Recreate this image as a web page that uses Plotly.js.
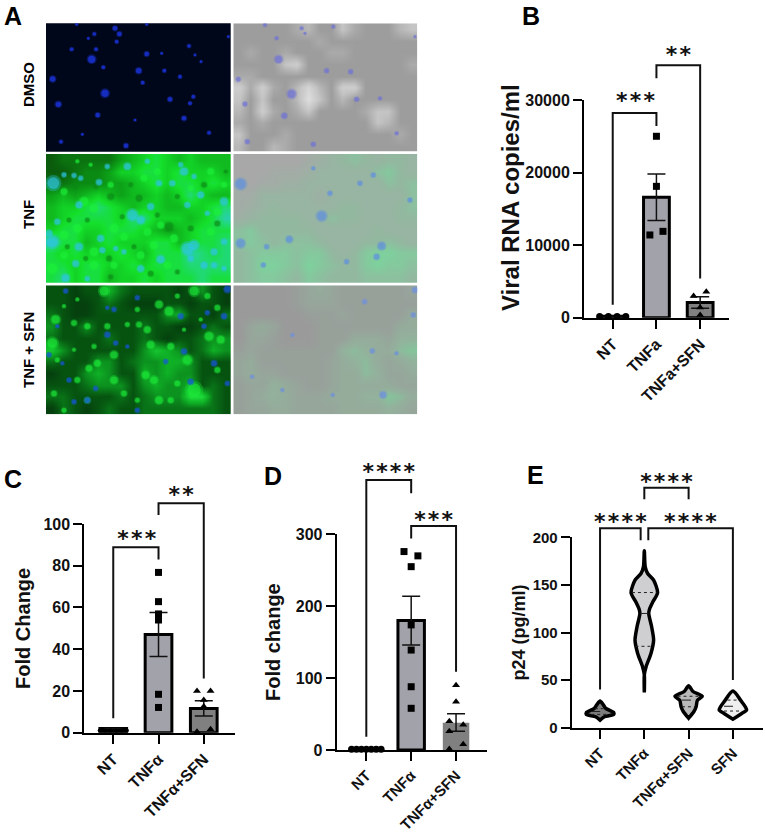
<!DOCTYPE html>
<html>
<head>
<meta charset="utf-8">
<script src="https://cdn.plot.ly/plotly-3.0.1.min.js"></script>
<style>body { margin: 0; background: #fff; }</style>
</head>
<body>
<div id="plot" style="width:765px;height:833px;"></div>
<script>
// Panel A: coarse brightness grids (one digit per cell, 0-9)
const tnfFluor = ['0111113456545444','0012235566565554','1122233456566565','3434543445457544','4556765455445567','4566665775554568','5665566654345666','8664565556645667','6565556546668767','6656655656667777','6756645565666766'];
const sfnFluor = ['3323364333323532','3322343222332332','4322333333563324','5335333343322343','4333343343233455','7533333357653465','4333553455665333','2335653365655333','3334555356556343','4433334345558843','2432343344444443'];
const dmsoBright = ['3333345336433356','3333333433333333','3433433344333333','3333673333333334','4433333333333333','7474358537733333','6363359635333333','5374346333346633','4343333333336533','6333433333333343','5335433333333333'];
const tnfOverlay = ['0000001234543443','0001112333335643','1011223333333545','1133333233333335','1234333334433345','2344443354433344','5644444333334333','5654555433344543','4566656643467766','4577657654467665','4566546544455554'];
const sfnOverlay = ['0000012321111112','0000012221111111','0000001112111113','0232000111111133','0221000111333244','1211111114543356','2311111123453234','2322111123354223','1224321123333322','1234322233344653','1223322223333432'];

const dmsoBlue = [[275,178,8],[345,85,5],[358,102,5],[283,102,4],[265,115,3],[350,125,4],[215,148,4],[288,148,4],[440,162,5],[485,160,3],[567,138,4],[585,165,3],[603,185,3],[158,237,6],[310,202,4],[416,212,6],[493,212,4],[540,230,4],[428,248,4],[315,280,8],[175,313,6],[510,298,5],[580,290,4],[570,310,4],[293,345,5],[405,360,3],[552,355,5],[627,398,4],[183,425,4],[378,437,5],[685,110,3],[230,73,3],[440,73,3],[247,403,3]];
const dmsoOverlayBlue = [[836,178,8],[905,85,4],[1000,80,4],[830,115,4],[980,212,5],[1052,215,5],[875,282,9],[735,312,5],[1070,298,5],[1140,295,4],[853,347,6],[715,238,5],[742,425,5],[940,433,5],[1190,400,4],[1245,110,3],[795,75,4],[915,100,3]];
const tnfCyan = [[28,95,13],[60,70,5],[90,72,5],[110,80,5],[165,92,6],[105,160,7],[265,190,11],[290,205,8],[320,165,7],[345,95,6],[385,95,6],[420,60,8],[450,75,5],[470,130,7],[430,160,6],[540,150,8],[490,185,5],[25,270,12],[15,245,7],[105,285,8],[170,260,7],[175,295,6],[240,300,5],[350,322,8],[430,290,12],[450,280,10],[510,300,7],[540,270,6],[95,335,7],[65,378,8],[290,350,7],[480,340,7],[540,350,5],[410,40,5],[250,45,7],[190,45,5],[310,30,5],[40,210,6],[215,290,5],[130,380,5],[440,320,6],[510,340,6]];
const tnfGreenSpots = [[120,150,9],[60,120,7],[150,170,9],[100,230,9],[60,250,9],[210,230,9],[240,255,8],[310,240,8],[350,220,7],[390,260,8],[150,300,9],[60,310,8],[25,350,11],[150,340,9],[210,340,7],[290,310,8],[370,340,8],[330,280,8],[500,240,8],[520,180,8],[340,60,7],[300,80,7],[440,110,6],[500,60,7],[540,100,6],[200,100,6],[100,30,4],[140,40,4]];
const tnfDarkSpots = [[95,105,6],[200,135,7],[285,140,7],[375,225,9],[340,190,5],[235,195,5],[130,205,5],[75,205,5],[400,135,5],[480,100,6],[520,215,6],[195,320,6],[125,320,5],[270,285,5],[320,365,6],[400,360,5],[70,285,5],[200,375,5],[545,60,4],[260,100,5],[440,230,6],[155,105,5]];
const sfnGreenSpots = [[180,25,10],[35,110,9],[25,180,11],[130,130,6],[90,120,6],[60,70,4],[190,130,6],[210,215,8],[160,240,7],[135,255,7],[320,185,8],[375,85,9],[345,65,8],[450,25,10],[520,75,6],[495,160,9],[430,230,10],[380,190,7],[450,320,15],[345,350,8],[330,290,8],[210,290,8],[305,275,8],[240,330,6],[100,290,6],[30,330,6],[60,380,5],[400,300,6],[250,125,5],[310,140,7],[285,125,6],[420,140,4],[530,170,8],[490,40,6],[100,50,4],[400,40,5],[150,190,5],[40,230,5],[130,350,6],[280,80,5],[280,350,5],[380,350,6],[520,260,6],[90,200,4],[470,110,4]];
const sfnBlueSpots = [[410,100,6],[190,155,6],[420,205,6],[540,100,6],[440,295,6],[130,350,6],[155,315,5],[75,290,5],[215,180,5],[365,235,5],[65,25,5],[210,80,5],[190,75,4],[510,240,6],[480,130,5],[15,215,5],[55,240,4],[90,355,5],[550,300,5],[280,45,5],[280,380,5],[550,20,7],[490,90,5],[250,190,4],[40,130,4]];
const tnfOverlayBlue = [[722,552,11],[965,648,10],[868,718,7],[722,730,9],[1145,738,8],[1080,550,5],[1230,600,5],[990,580,5],[800,740,5],[1040,785,5],[1130,770,6],[790,795,5],[940,505,4],[1120,525,5]];
const sfnOverlayBlue = [[1245,870,6],[1118,1053,5],[1095,905,5],[1240,945,5],[1150,1185,7],[850,1170,4],[880,1005,4],[1190,1060,4],[1000,1185,4],[760,1130,4]];

// Panel B
const bCats = ['NT', 'TNFa', 'TNFa+SFN'];
const bMeans = [200, 16600, 2100];
const bErrUp = [0, 3200, 800];
const bErrDown = [0, 3200, 800];
const bNtX = [-0.3, -0.1, 0.1, 0.3];
const bNtY = [150, 150, 150, 150];
const bTnfX = [0, 0, 0.15, -0.15];
const bTnfY = [25000, 18100, 11900, 11400];
const bSfnX = [-0.15, 0.14, 0, 0];
const bSfnY = [2985, 3580, 1400, 370];

// Panel C
const cCats = ['NT', 'TNFα', 'TNFα+SFN'];
const cMeans = [2, 47, 11.6];
const cErrUp = [0, 10.6, 3.7];
const cErrDown = [0, 10.5, 3.6];
const cNtX = [-0.3, -0.18, -0.06, 0.06, 0.18, 0.3];
const cNtY = [1, 1, 1, 1, 1, 1];
const cTnfX = [0, 0, 0, 0, 0, 0];
const cTnfY = [76.8, 62.8, 56.9, 54, 18.4, 12.1];
const cSfnX = [-0.15, 0.15, 0, 0, 0.15, -0.15];
const cSfnY = [20, 20, 15.7, 12.5, 1.6, 0.5];

// Panel D
const dCats = ['NT', 'TNFα', 'TNFα+SFN'];
const dMeans = [1, 180, 38];
const dErrUp = [0, 34, 12.5];
const dErrDown = [0, 34, 12];
const dNtX = [-0.33, -0.22, -0.11, 0, 0.11, 0.22, 0.33];
const dNtY = [1, 1, 1, 1, 1, 1, 1];
const dTnfX = [-0.16, 0.15, 0, 0, 0, 0, 0];
const dTnfY = [276, 270, 255, 174, 139, 88, 58];
const dSfnX = [0, 0, -0.15, 0.16, -0.15, 0.16, -0.15];
const dSfnY = [90, 67, 40, 35, 26, 8, 1.4];

// Panel E: violin outlines, value and half width (in category units)
const eCats = ['NT', 'TNFα', 'TNFα+SFN', 'SFN'];
const ntViolinY = [28, 24, 20.3, 15.8, 14, 11.5, 8];
const ntViolinW = [0, 0.075, 0.13, 0.31, 0.31, 0.1, 0];
const tnfViolinY = [186, 169, 162, 155, 142, 132, 125, 120, 106, 92, 78, 64, 55.5, 37];
const tnfViolinW = [0, 0.02, 0.075, 0.21, 0.3, 0.19, 0.12, 0.1, 0.165, 0.21, 0.15, 0.04, 0, 0];
const comboViolinY = [44, 38, 33, 29, 22, 17, 10];
const comboViolinW = [0, 0.1, 0.31, 0.2, 0.17, 0.12, 0];
const sfnViolinY = [38.5, 34, 29, 22, 18.5, 15, 9];
const sfnViolinW = [0, 0.1, 0.17, 0.28, 0.31, 0.2, 0];
const violinFills = ['#7d7d7d', '#cfcfd2', '#b9b9b9', '#efefef'];
// quartile lines: [median, upper, lower] values and half widths
const ntQuart = [[17, 0.2], [20, 0.12], [14, 0.2]];
const tnfQuart = [[120, 0.09], [142, 0.28], [85.5, 0.2]];
const comboQuart = [[29, 0.15], [33, 0.25], [22, 0.15]];
const sfnQuart = [[22.5, 0.2], [29, 0.12], [17.5, 0.2]];

// Significance brackets: [xLeft, yLeftEnd, yTop, xRight, yRightEnd]
const bBrackets = [[0, 1800, 28200, 1, 26400], [1, 33000, 34800, 2, 5400]];
const cBrackets = [[0, 6.9, 88.8, 1, 83], [1, 104.3, 110, 2, 26]];
const dBrackets = [[0, 18.5, 375.5, 1, 357], [1, 294, 311.5, 2, 109]];
const eBrackets = [[0, 40, 209.5, 0.917, 197], [1.09, 197, 209.5, 3, 50], [1, 240, 252, 2, 240]];
// Stars: [x, y, text], hair spaces keep the asterisks apart
const bStars = [[0.52, 29600, '*\u200a*\u200a*'], [1.5, 36000, '*\u200a*']];
const cStars = [[0.52, 92, '*\u200a*\u200a*'], [1.5, 113, '*\u200a*']];
const dStars = [[0.5, 384, '*\u200a*\u200a*\u200a*'], [1.5, 318, '*\u200a*\u200a*']];
const eStars = [[0.46, 214, '*\u200a*\u200a*\u200a*'], [2.04, 214, '*\u200a*\u200a*\u200a*'], [1.5, 257, '*\u200a*\u200a*\u200a*']];

const FONT = 'Liberation Sans, Arial, sans-serif';
const W = 765, H = 833;
const traces = [];
const layout = {
    width: W, height: H,
    margin: { l: 0, r: 0, t: 0, b: 0 },
    paper_bgcolor: '#fff',
    plot_bgcolor: 'rgba(0,0,0,0)',
    showlegend: false,
    shapes: [],
    annotations: []
};

function domX(a, b) { return [a / W, b / W]; }
function domY(top, bottom) { return [1 - bottom / H, 1 - top / H]; }

// one micrograph: hidden axes, smoothed heatmap from a digit grid
function addPhoto(n, rect, xr, yr, rows, scale) {
    layout['xaxis' + n] = { domain: domX(rect[0], rect[1]), range: xr, visible: false, fixedrange: true };
    layout['yaxis' + n] = { domain: domY(rect[2], rect[3]), range: [yr[1], yr[0]], visible: false, fixedrange: true };
    if (rows) {
        const nx = rows[0].length, ny = rows.length;
        const x = [], y = [];
        for (let i = 0; i < nx; i++) x.push(xr[0] + (xr[1] - xr[0]) * (i + 0.5) / nx);
        for (let j = 0; j < ny; j++) y.push(yr[0] + (yr[1] - yr[0]) * (j + 0.5) / ny);
        traces.push({
            type: 'heatmap', x: x, y: y,
            z: rows.map(r => r.split('').map(Number)),
            zmin: 0, zmax: 9, zsmooth: 'best', colorscale: scale, showscale: false, hoverinfo: 'skip',
            xaxis: 'x' + n, yaxis: 'y' + n
        });
    }
}

function addSpots(n, spots, color, halo) {
    const x = spots.map(s => s[0]), y = spots.map(s => s[1]), s = spots.map(s => s[2]);
    traces.push({
        type: 'scatter', mode: 'markers', x: x, y: y, xaxis: 'x' + n, yaxis: 'y' + n, hoverinfo: 'skip',
        marker: { color: color, size: s.map(v => v * 1.25), opacity: halo, line: { width: 0 } }
    });
    traces.push({
        type: 'scatter', mode: 'markers', x: x, y: y, xaxis: 'x' + n, yaxis: 'y' + n, hoverinfo: 'skip',
        marker: { color: color, size: s.map(v => v * 0.9), opacity: 0.6, line: { width: 0 } }
    });
}

function addChartAxes(n, rect, xRange, yRange, cats, yTicks, extTop, opts) {
    layout['xaxis' + n] = {
        domain: domX(rect[0], rect[1]), range: xRange, anchor: 'y' + n, fixedrange: true,
        tickmode: 'array', tickvals: cats.map((c, i) => i), ticktext: cats, tickangle: -45,
        showline: true, linecolor: '#000', linewidth: 2, showgrid: false, zeroline: false,
        ticks: 'outside', ticklen: 9, tickwidth: 2, tickcolor: '#000',
        tickfont: { family: FONT, size: opts.catSize, color: '#111', weight: 700 }
    };
    layout['yaxis' + n] = {
        domain: domY(rect[2], rect[3]), range: yRange, anchor: 'x' + n, fixedrange: true,
        tickmode: 'array', tickvals: yTicks, tickformat: 'd',
        showline: true, linecolor: '#000', linewidth: 2, showgrid: false, zeroline: false,
        ticks: 'outside', ticklen: 9, tickwidth: 2, tickcolor: '#000',
        tickfont: { family: FONT, size: opts.tickSize, color: '#111', weight: 700 }
    };
    if (opts.title) {
        layout['yaxis' + n].title = { text: opts.title, standoff: opts.standoff, font: { family: FONT, size: opts.titleSize, color: '#111', weight: 700 } };
    }
    // hidden companion axes at the same scale, taller so brackets and stars can sit above the top tick
    const top = yRange[1] * (rect[3] - extTop) / (rect[3] - rect[2]);
    const m = n + 10;
    layout['xaxis' + m] = { domain: domX(rect[0], rect[1]), range: xRange, anchor: 'y' + m, visible: false, fixedrange: true };
    layout['yaxis' + m] = { domain: domY(extTop, rect[3]), range: [0, top], anchor: 'x' + m, visible: false, fixedrange: true };
}

function addBars(n, means, up, down, fills, borders) {
    traces.push({
        type: 'bar', x: means.map((m, i) => i), y: means, width: 0.59, cliponaxis: false,
        xaxis: 'x' + n, yaxis: 'y' + n, hoverinfo: 'skip',
        marker: { color: fills, line: { color: '#000', width: borders } },
        error_y: { type: 'data', symmetric: false, array: up, arrayminus: down, color: '#111', thickness: 1.5, width: 9 }
    });
}

function addPoints(n, x, y, offset, symbol, size) {
    traces.push({
        type: 'scatter', mode: 'markers', x: x.map(v => v + offset), y: y, cliponaxis: false,
        xaxis: 'x' + n, yaxis: 'y' + n, hoverinfo: 'skip',
        marker: { color: '#000', symbol: symbol, size: size }
    });
}

function addBrackets(n, list) {
    const m = n + 10;
    list.forEach(b => {
        traces.push({
            type: 'scatter', mode: 'lines', x: [b[0], b[0], b[3], b[3]], y: [b[1], b[2], b[2], b[4]],
            cliponaxis: false, xaxis: 'x' + m, yaxis: 'y' + m, hoverinfo: 'skip',
            line: { color: '#111', width: 2 }
        });
    });
}

function addStars(n, list) {
    const m = n + 10;
    traces.push({
        type: 'scatter', mode: 'text', x: list.map(s => s[0]), y: list.map(s => s[1]), text: list.map(s => s[2]),
        textposition: 'middle center', cliponaxis: false, xaxis: 'x' + m, yaxis: 'y' + m, hoverinfo: 'skip',
        textfont: { family: 'DejaVu Sans', size: 22, color: '#111', weight: 700 }
    });
}

function addViolin(n, cat, ys, ws, fill, quart) {
    const x = ws.map(w => cat - w).concat(ws.slice().reverse().map(w => cat + w));
    const y = ys.concat(ys.slice().reverse());
    traces.push({
        type: 'scatter', mode: 'lines', x: x, y: y, fill: 'toself', fillcolor: fill, cliponaxis: false,
        xaxis: 'x' + n, yaxis: 'y' + n, hoverinfo: 'skip',
        line: { color: '#000', width: 3.5, shape: 'spline', smoothing: 0.7 }
    });
    quart.forEach((q, i) => {
        traces.push({
            type: 'scatter', mode: 'lines', x: [cat - q[1], cat + q[1]], y: [q[0], q[0]], cliponaxis: false,
            xaxis: 'x' + n, yaxis: 'y' + n, hoverinfo: 'skip',
            line: { color: '#222', width: 1, dash: i === 0 ? 'dash' : 'dot' }
        });
    });
}

// ---- Panel A ----
const greenScale = [[0, '#0a5c0c'], [0.3, '#0c9a16'], [0.62, '#14e02a'], [0.8, '#22d880'], [1, '#30c4e0']];
const darkGreenScale = [[0, '#031c0a'], [0.33, '#065210'], [0.66, '#0fb026'], [1, '#26f044']];
const grayScale = [[0, '#8a8a8a'], [0.33, '#9d9d9d'], [0.66, '#c4c4c4'], [1, '#dedede']];
const overlayScale = [[0, '#a8a8a8'], [0.45, '#93b8a0'], [1, '#6fe29a']];
const overlayDarkScale = [[0, '#9a9a9a'], [0.45, '#93b29c'], [1, '#6fe29a']];

addPhoto(1, [46, 230.7, 23.3, 151.7], [138, 692], [70, 455], null);
layout.shapes.push({ type: 'rect', xref: 'x domain', yref: 'y domain', x0: 0, x1: 1, y0: 0, y1: 1, fillcolor: '#00071a', line: { width: 0 }, layer: 'below' });
addSpots(1, dmsoBlue, '#1f3cff', 0.3);
addPhoto(2, [233.3, 417.3, 23.3, 151.7], [700, 1252], [70, 455], dmsoBright, grayScale);
addSpots(2, dmsoOverlayBlue, '#6d6fd8', 0.3);
addPhoto(3, [46, 230.7, 154, 282.7], [6, 560], [8, 392], tnfFluor, greenScale);
addSpots(3, tnfDarkSpots, '#0b8a16', 0.25);
addSpots(3, tnfGreenSpots, '#1cf038', 0.3);
addSpots(3, tnfCyan, '#2ec4e6', 0.35);
addPhoto(4, [233.3, 417.3, 154, 282.7], [700, 1252], [462, 848], tnfOverlay, overlayScale);
addSpots(4, tnfOverlayBlue, '#5f8fe0', 0.35);
addPhoto(5, [46, 230.7, 285.3, 414.3], [6, 560], [8, 392], sfnFluor, darkGreenScale);
addSpots(5, sfnGreenSpots, '#1cea38', 0.3);
addSpots(5, sfnBlueSpots, '#1656e0', 0.35);
addPhoto(6, [233.3, 417.3, 285.3, 414.3], [704, 1252], [856, 1243], sfnOverlay, overlayDarkScale);
addSpots(6, sfnOverlayBlue, '#6d8fe0', 0.35);

// ---- Panel B ----
addChartAxes(7, [584, 729, 100, 317.7], [-0.657, 2.66], [0, 30000], bCats, [0, 10000, 20000, 30000], 0,
    { catSize: 16, tickSize: 16 });
addBars(7, bMeans, bErrUp, bErrDown, ['#000', '#a2a2aa', '#808080'], [3, 3, 3]);
addPoints(7, bNtX, bNtY, 0, 'circle', 7);
addPoints(7, bTnfX, bTnfY, 1, 'square', 7);
addPoints(7, bSfnX, bSfnY, 2, 'triangle-up', 7);
addBrackets(7, bBrackets);
addStars(7, bStars);
layout.annotations.push({
    text: 'Viral RNA copies/ml', xref: 'paper', yref: 'paper', x: 510 / W, y: 1 - 198 / H, xanchor: 'center', yanchor: 'middle',
    textangle: -90, showarrow: false, font: { family: FONT, size: 24, color: '#111', weight: 700 }
});

// ---- Panel C ----
addChartAxes(8, [84.3, 235, 524, 732.7], [-0.64, 2.69], [0, 100], cCats, [0, 20, 40, 60, 80, 100], 470,
    { catSize: 16, tickSize: 16, title: 'Fold Change', titleSize: 20, standoff: 7 });
addBars(8, cMeans, cErrUp, cErrDown, ['#000', '#a2a2aa', '#808080'], [3, 3, 3]);
addPoints(8, cNtX, cNtY, 0, 'circle', 4);
addPoints(8, cTnfX, cTnfY, 1, 'square', 7);
addPoints(8, cSfnX, cSfnY, 2, 'triangle-up', 7);
addBrackets(8, cBrackets);
addStars(8, cStars);

// ---- Panel D ----
addChartAxes(9, [336.7, 487, 534.3, 750], [-0.66, 2.69], [0, 300], dCats, [0, 100, 200, 300], 450,
    { catSize: 15, tickSize: 16, title: 'Fold change', titleSize: 20, standoff: 10 });
addBars(9, dMeans, dErrUp, dErrDown, ['#000', '#a2a2aa', '#808080'], [1, 3, 0]);
addPoints(9, dNtX, dNtY, 0, 'circle', 7);
addPoints(9, dTnfX, dTnfY, 1, 'square', 7);
addPoints(9, dSfnX, dSfnY, 2, 'triangle-up', 7);
addBrackets(9, dBrackets);
addStars(9, dStars);

// ---- Panel E ----
addChartAxes(10, [571.7, 763, 537.3, 727.7], [-0.64, 3.68], [0, 200], eCats, [0, 50, 100, 150, 200], 450,
    { catSize: 15, tickSize: 15, title: 'p24 (pg/ml)', titleSize: 18, standoff: 2 });
addViolin(10, 0, ntViolinY, ntViolinW, violinFills[0], ntQuart);
addViolin(10, 1, tnfViolinY, tnfViolinW, violinFills[1], tnfQuart);
addViolin(10, 2, comboViolinY, comboViolinW, violinFills[2], comboQuart);
addViolin(10, 3, sfnViolinY, sfnViolinW, violinFills[3], sfnQuart);
addBrackets(10, eBrackets);
addStars(10, eStars);

// Panel letters and row labels
const panelLetters = [['A', 2, 16], ['B', 520, 16], ['C', 2, 479], ['D', 262, 476], ['E', 525, 475]];
panelLetters.forEach(p => {
    layout.annotations.push({
        text: p[0], xref: 'paper', yref: 'paper', x: p[1] / W, y: 1 - p[2] / H, xanchor: 'left', yanchor: 'middle',
        showarrow: false, font: { family: FONT, size: 25, color: '#000', weight: 700 }
    });
});
const rowLabels = [['DMSO', 85], ['TNF', 215], ['TNF + SFN', 350]];
rowLabels.forEach(r => {
    layout.annotations.push({
        text: r[0], xref: 'paper', yref: 'paper', x: 28 / W, y: 1 - r[1] / H, xanchor: 'center', yanchor: 'middle',
        textangle: -90, showarrow: false, font: { family: FONT, size: 15, color: '#000', weight: 700 }
    });
});

Plotly.newPlot('plot', traces, layout, { displayModeBar: false, responsive: false });
</script>
</body>
</html>
